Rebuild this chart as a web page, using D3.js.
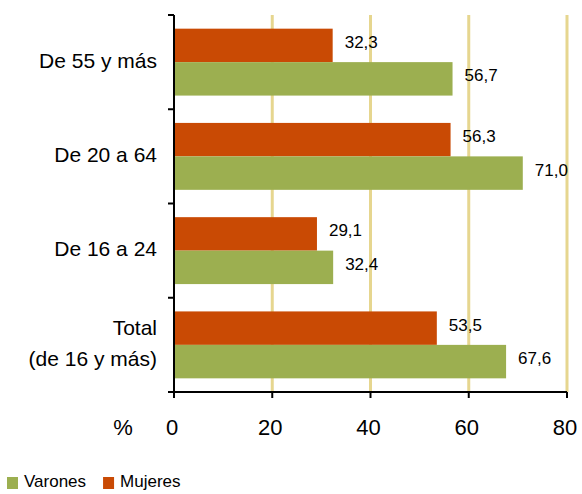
<!DOCTYPE html>
<html><head><meta charset="utf-8">
<script src="https://cdn.jsdelivr.net/npm/d3@7/dist/d3.min.js"></script>
<style>body{margin:0;background:#fff}svg{display:block}text{font-family:"Liberation Sans",Arial,sans-serif;fill:#000}</style>
</head><body><svg id="c" width="582" height="494"></svg>
<script>
const categories = ["De 55 y más", "De 20 a 64", "De 16 a 24", "Total|(de 16 y más)"];
const mujeres = [32.3, 56.3, 29.1, 53.5];
const varones = [56.7, 71.0, 32.4, 67.6];
const xTicks = [0, 20, 40, 60, 80];
const seriesNames = ["Varones", "Mujeres"];
const colors = {Varones: "#9caf50", Mujeres: "#c94a04"};

const svg = d3.select("#c");
const x = d3.scaleLinear().domain([0, 80]).range([174, 567]);
const y = d3.scaleBand().domain(categories).range([15, 392]).paddingInner(0.29).paddingOuter(0.145);
const sub = d3.scaleBand().domain(["Mujeres", "Varones"]).range([0, y.bandwidth()]);

// gridlines
svg.append("g").selectAll("line").data(xTicks.filter(d => d > 0)).join("line")
  .attr("x1", d => x(d)).attr("x2", d => x(d)).attr("y1", 15).attr("y2", 392)
  .attr("stroke", "#e6d68f").attr("stroke-width", 3);

// bars
const data = categories.map((c, i) => ({c, Mujeres: mujeres[i], Varones: varones[i]}));
const g = svg.append("g");
data.forEach(d => {
  ["Mujeres", "Varones"].forEach(s => {
    g.append("rect").attr("x", x(0)).attr("y", y(d.c) + sub(s))
      .attr("width", x(d[s]) - x(0)).attr("height", sub.bandwidth())
      .attr("fill", colors[s]);
    g.append("text").attr("x", x(d[s]) + 12).attr("y", y(d.c) + sub(s) + sub.bandwidth() / 2 - 2)
      .attr("dominant-baseline", "middle").attr("font-size", 17)
      .text(d3.format(".1f")(d[s]).replace(".", ","));
  });
});

// axes
const axisColor = "#000";
svg.append("line").attr("x1", x(0)).attr("x2", x(0)).attr("y1", 15).attr("y2", 392).attr("stroke", axisColor).attr("stroke-width", 2);
svg.append("line").attr("x1", x(0)).attr("x2", x(80)).attr("y1", 392).attr("y2", 392).attr("stroke", axisColor).attr("stroke-width", 2);
const bounds = categories.map(c => y(c) - y.step() * y.paddingInner() / 2).concat([392]);
bounds[0] = 15;
svg.append("g").selectAll("line").data(bounds).join("line")
  .attr("x1", x(0) - 6).attr("x2", x(0)).attr("y1", d => d).attr("y2", d => d).attr("stroke", axisColor).attr("stroke-width", 2);
svg.append("g").selectAll("line").data(xTicks).join("line")
  .attr("x1", d => x(d)).attr("x2", d => x(d)).attr("y1", 392).attr("y2", 398).attr("stroke", axisColor).attr("stroke-width", 2);
svg.append("g").selectAll("text").data(xTicks).join("text")
  .attr("x", d => x(d) - 2).attr("y", 429).attr("text-anchor", "middle").attr("dominant-baseline", "middle")
  .attr("font-size", 22).text(d => d);
svg.append("text").attr("x", 123).attr("y", 429).attr("text-anchor", "middle").attr("dominant-baseline", "middle").attr("font-size", 22).text("%");

// category labels
categories.forEach(c => {
  const lines = c.split("|");
  const cy = y(c) + y.bandwidth() / 2;
  lines.forEach((t, i) => {
    svg.append("text").attr("x", 157).attr("y", cy + (i - (lines.length - 1) / 2) * 31)
      .attr("text-anchor", "end").attr("dominant-baseline", "middle").attr("font-size", 21).text(t);
  });
});

// legend
let lx = 7;
seriesNames.forEach(s => {
  svg.append("rect").attr("x", lx).attr("y", 477).attr("width", 11).attr("height", 12).attr("fill", colors[s]);
  const t = svg.append("text").attr("x", lx + 17).attr("y", 483).attr("dominant-baseline", "middle").attr("font-size", 17).text(s);
  lx += 17 + t.node().getComputedTextLength() + 17;
});
</script></body></html>
